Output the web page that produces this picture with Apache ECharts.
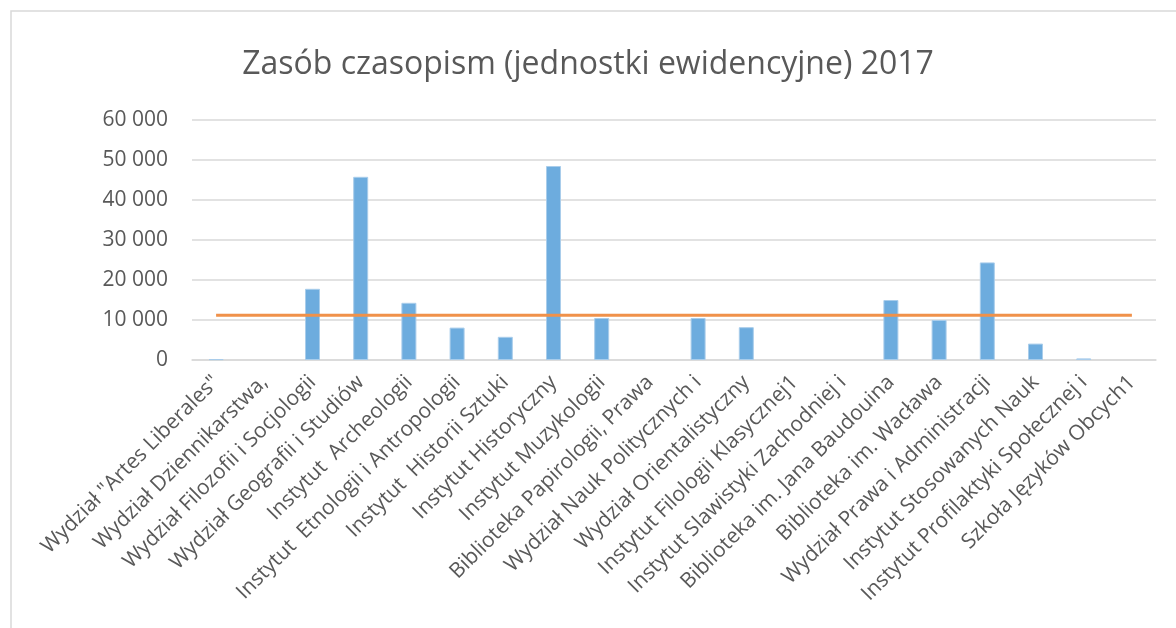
<!DOCTYPE html>
<html>
<head>
<meta charset="utf-8">
<script src="https://cdn.jsdelivr.net/npm/echarts@6/dist/echarts.min.js"></script>
<style>
  html, body { margin: 0; padding: 0; background: #fff; }
  #chart { width: 1176px; height: 628px; }
</style>
</head>
<body>
<div id="chart"></div>
<script>
// kategorie (jednostki)
const categories = [
    'Wydział "Artes Liberales"',
    'Wydział Dziennikarstwa,',
    'Wydział Filozofii i Socjologii',
    'Wydział Geografii i Studiów',
    'Instytut  Archeologii',
    'Instytut  Etnologii i Antropologii',
    'Instytut  Historii Sztuki',
    'Instytut Historyczny',
    'Instytut Muzykologii',
    'Biblioteka Papirologii, Prawa',
    'Wydział Nauk Politycznych i',
    'Wydział Orientalistyczny',
    'Instytut Filologii Klasycznej1',
    'Instytut Slawistyki Zachodniej i',
    'Biblioteka im. Jana Baudouina',
    'Biblioteka im. Wacława',
    'Wydział Prawa i Administracji',
    'Instytut Stosowanych Nauk',
    'Instytut Profilaktyki Społecznej i',
    'Szkoła Języków Obcych1'
]
// zasób czasopism
const zasob = [200, 0, 17800, 45800, 14300, 8100, 5800, 48500, 10500, 0,
               10500, 8200, 0, 0, 15000, 10000, 24400, 4100, 400, 0]
// średnia
const srednia = [11180, 11180, 11180, 11180, 11180, 11180, 11180, 11180, 11180, 11180,
                 11180, 11180, 11180, 11180, 11180, 11180, 11180, 11180, 11180, 11180]
const yTicks = [0, 10000, 20000, 30000, 40000, 50000, 60000]

const textColor = '#595959'
const font = '"Open Sans", "Noto Sans", sans-serif'

let myChart = echarts.init(document.getElementById('chart'))
myChart.setOption({
    animation: false,
    title: {
        text: 'Zasób czasopism (jednostki ewidencyjne) 2017',
        left: 'center',
        top: 44,
        textStyle: { color: textColor, fontSize: 32, fontWeight: 'normal', fontFamily: font }
    },
    graphic: [{
        type: 'rect',
        shape: { x: 11, y: 11, width: 1200, height: 650 },
        style: { fill: 'none', stroke: '#d9d9d9', lineWidth: 1.5 },
        silent: true
    }],
    grid: { left: 192, right: 20, top: 120, bottom: 268 },
    xAxis: {
        type: 'category',
        data: categories,
        boundaryGap: true,
        axisLine: { lineStyle: { color: '#d9d9d9', width: 1.5 } },
        axisTick: { show: false },
        axisLabel: {
            interval: 0,
            rotate: 45,
            margin: 19,
            color: textColor,
            fontSize: 21,
            fontFamily: font
        }
    },
    yAxis: {
        type: 'value',
        min: yTicks[0],
        max: yTicks[yTicks.length - 1],
        interval: 10000,
        axisLine: { show: false },
        axisTick: { show: false },
        splitLine: { lineStyle: { color: '#d9d9d9', width: 1.5 } },
        axisLabel: {
            margin: 24,
            color: textColor,
            fontSize: 21,
            fontFamily: font,
            formatter: v => String(v).replace(/\B(?=(\d{3})+(?!\d))/g, ' ')
        }
    },
    series: [
        {
            name: 'Zasób',
            type: 'bar',
            // puste jednostki bez obramowania
            data: zasob.map(v => v > 0 ? v : { value: v, itemStyle: { borderWidth: 0 } }),
            barWidth: 15,
            itemStyle: { color: '#6dacde', borderColor: '#a9cdeb', borderWidth: 1 }
        },
        {
            name: 'Średnia',
            type: 'line',
            data: srednia,
            showSymbol: false,
            lineStyle: { color: '#f0914a', width: 3 },
            z: 3
        }
    ]
})
</script>
</body>
</html>
